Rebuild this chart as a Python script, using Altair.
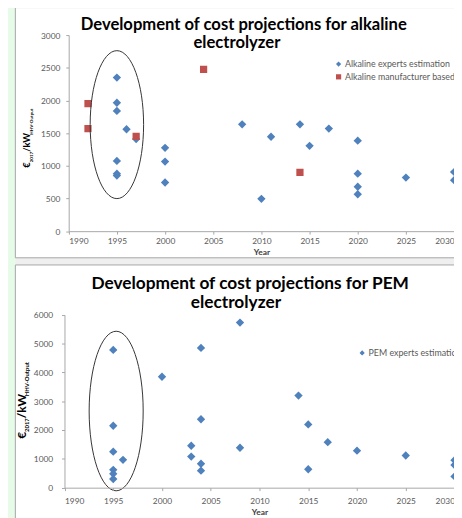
import altair as alt
import pandas as pd

# ---------------- data ----------------
alk_exp_year = [1995, 1995, 1995, 1995, 1995, 1995, 1996, 1997, 2000, 2000, 2000,
                2008, 2010, 2011, 2014, 2015, 2017, 2020, 2020, 2020, 2020, 2025, 2030, 2030]
alk_exp_cost = [2350, 1965, 1840, 1075, 880, 850, 1560, 1410, 1275, 1065, 745,
                1635, 495, 1445, 1635, 1305, 1570, 1385, 880, 680, 565, 820, 905, 780]
alk_man_year = [1992, 1992, 1997, 2004, 2014]
alk_man_cost = [1950, 1570, 1450, 2475, 900]

pem_exp_year = [1995, 1995, 1995, 1995, 1995, 1995, 1996, 2000, 2003, 2003, 2004, 2004, 2004, 2004,
                2008, 2008, 2014, 2015, 2015, 2017, 2020, 2025, 2030, 2030, 2030]
pem_exp_cost = [4780, 2150, 1250, 620, 480, 300, 965, 3850, 1455, 1080, 4850, 2375, 830, 590,
                5730, 1385, 3195, 2195, 640, 1580, 1285, 1115, 955, 785, 390]

alk_series = ["Alkaline experts estimation", "Alkaline manufacturer based"]
pem_series = ["PEM experts estimation"]

x_ticks = [1990, 1995, 2000, 2005, 2010, 2015, 2020, 2025, 2030]
alk_y_ticks = [0, 500, 1000, 1500, 2000, 2500, 3000]
pem_y_ticks = [0, 1000, 2000, 3000, 4000, 5000, 6000]

alk_circle_center = [1995, 1630]
pem_circle_center = [1995.3, 2660]

alk_title = ["Development of cost projections for alkaline", "electrolyzer"]
pem_title = ["Development of cost projections for PEM", "electrolyzer"]

# ---------------- styling ----------------
W, H = 454, 510
BLUE, RED = "#4F81BD", "#C0504D"
GREEN_BG = "#e6fce8"
TXT = "#595959"
FONT = "Lato"

one = pd.DataFrame({"a": [0]})


def ellipse_path(ratio):
    k = 0.5523
    a = ratio
    ka = k * a
    return (f"M0,-1C{ka:.4f},-1 {a:.4f},-{k} {a:.4f},0"
            f"C{a:.4f},{k} {ka:.4f},1 0,1"
            f"C-{ka:.4f},1 -{a:.4f},{k} -{a:.4f},0"
            f"C-{a:.4f},-{k} -{ka:.4f},-1 0,-1Z")


def panel(groups, series, colors, shapes, x_range, y_range, y_dom, y_ticks,
          circle, circle_ratio, circle_h, legend_xy, label_pad, lab_off, title_pad):
    xs = alt.Scale(domain=[1990, 2030], range=x_range, nice=False, zero=False)
    ys = alt.Scale(domain=y_dom, range=y_range, nice=False)
    leg = alt.Legend(title=None, orient="none", legendX=legend_xy[0], legendY=legend_xy[1],
                     labelFont=FONT, labelFontSize=9, labelColor=TXT, labelLimit=400,
                     symbolSize=28, padding=0, rowPadding=3, labelOffset=2,
                     symbolStrokeWidth=0)
    xaxis = alt.Axis(orient="bottom", offset=-(H - y_range[0]), zindex=1,
                     values=x_ticks, format="d", grid=False,
                     domainColor="#a6a6a6", tickColor="#a6a6a6", tickSize=3,
                     labelFont=FONT, labelFontSize=8.5, labelColor=TXT,
                     labelPadding=lab_off, title="Year", titleFont=FONT,
                     titleFontSize=8.5, titleFontWeight="bold", titleColor="#404040",
                     titlePadding=title_pad)
    yaxis = alt.Axis(orient="left", offset=-x_range[0], values=y_ticks, format="d", zindex=1,
                     grid=False, domainColor="#a6a6a6", tickColor="#a6a6a6",
                     tickSize=3, labelFont=FONT, labelFontSize=8.5, labelColor=TXT,
                     labelPadding=label_pad, title=None)
    layers = []
    for df, size in groups:
        layers.append(alt.Chart(df).mark_point(filled=True, opacity=1, clip=True, size=size).encode(
            x=alt.X("year:Q", scale=xs, axis=xaxis),
            y=alt.Y("cost:Q", scale=ys, axis=yaxis),
            color=alt.Color("series:N", scale=alt.Scale(domain=series, range=colors), legend=leg),
            shape=alt.Shape("series:N", scale=alt.Scale(domain=series, range=shapes), legend=leg),
        ))
    cdf = pd.DataFrame({"year": [circle[0]], "cost": [circle[1]]})
    layers.append(alt.Chart(cdf).mark_point(shape=ellipse_path(circle_ratio), size=circle_h ** 2,
                                            filled=False, stroke="#333333", strokeWidth=1,
                                            opacity=1).encode(
        x=alt.X("year:Q", scale=xs, axis=xaxis),
        y=alt.Y("cost:Q", scale=ys, axis=yaxis),
    ))
    return alt.layer(*layers)


alk_exp_df = pd.DataFrame({"year": alk_exp_year, "cost": alk_exp_cost,
                           "series": [alk_series[0]] * len(alk_exp_year)})
alk_man_df = pd.DataFrame({"year": alk_man_year, "cost": alk_man_cost,
                           "series": [alk_series[1]] * len(alk_man_year)})
pem_df = pd.DataFrame({"year": pem_exp_year, "cost": pem_exp_cost,
                       "series": [pem_series[0]] * len(pem_exp_year)})

top = panel([(alk_exp_df, 72), (alk_man_df, 54)], alk_series, [BLUE, RED], ["diamond", "square"],
            [61.8, 454.1], [222.6, 23], [0, 3000], alk_y_ticks,
            alk_circle_center, 27.2 / 75.3, 150.6, [332, 48], 6, 3, 2)
bot = panel([(pem_df, 72)], pem_series, [BLUE], ["diamond"],
            [57.5, 454.5], [483.7, 307.7], [0, 6000], pem_y_ticks,
            pem_circle_center, 27.5 / 81.2, 162.4, [356, 342], 9, 6, 3)


def rect(x1, x2, y1, y2, fill, stroke=None):
    kw = dict(fill=fill)
    if stroke:
        kw.update(stroke=stroke, strokeWidth=1)
    return alt.Chart(one).mark_rect(**kw).encode(
        x=alt.value(x1), x2=alt.value(x2), y=alt.value(y1), y2=alt.value(y2))


def text(s, x, y, size, weight="normal", color="black", angle=0, align="center",
         baseline="middle"):
    return alt.Chart(one).mark_text(font=FONT, fontSize=size, fontWeight=weight, color=color,
                                    angle=angle, align=align, baseline=baseline).encode(
        x=alt.value(x), y=alt.value(y), text=alt.value(s))


decor = [
    rect(7.5, 470, 249.7, 257, "#efefef"),
    rect(7.5, 470, -5, 249.7, "white", "#a5a5a5"),
    rect(7.5, 470, 257, 530, "white", "#a5a5a5"),
]

titles = [
    text(alk_title[0], 240, 12.5, 16.9, "bold"),
    text(alk_title[1], 233, 31.5, 16.9, "bold"),
    text(pem_title[0], 246.5, 276.5, 17.6, "bold"),
    text(pem_title[1], 232, 296, 17.6, "bold"),
]


def ytitle(x_main, x_sub, y0, fm, fs):
    # segments stacked bottom -> top (rotated 270)
    w_eur = 0.58 * fm
    w_2017 = 2.32 * fs
    w_kw = 1.83 * fm
    segs = [
        ("€", x_main, y0, fm, "bold"),
        ("2017", x_sub, y0 - w_eur, fs, "bold"),
        ("/kW", x_main, y0 - w_eur - w_2017, fm, "bold"),
        ("HHV-Output", x_sub, y0 - w_eur - w_2017 - w_kw, fs, "bold"),
    ]
    return [text(s, x, y, f, w, "black", 270, "left", "alphabetic") for s, x, y, f, w in segs]


ytitles = ytitle(22.7, 25.5, 158, 9.5, 4.6) + ytitle(18, 21, 434, 12.2, 6)

chart = alt.layer(*decor, top, bot, *titles, *ytitles).resolve_scale(
    x="independent", y="independent", color="independent", shape="independent"
).resolve_legend(color="independent", shape="independent").properties(
    width=W, height=H, padding=0, autosize=alt.AutoSizeParams(type="none")
).configure(background=GREEN_BG).configure_view(stroke=None)

chart.save("out.html", embed_options={"renderer": "svg", "actions": False})
